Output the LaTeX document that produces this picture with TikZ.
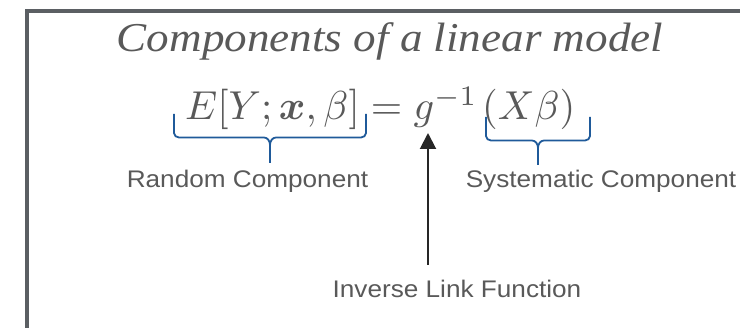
\documentclass[tikz,border=0pt]{standalone}
\usepackage{fontspec}
\usepackage{amsmath}
\usepackage{bm}
\usepackage{graphicx}
\setmainfont{Liberation Sans}
\newfontfamily\titlefont{Liberation Serif}
\usetikzlibrary{arrows.meta}
\definecolor{txtgray}{HTML}{595959}
\definecolor{framegray}{HTML}{5B5F63}
\definecolor{braceblue}{HTML}{1F5A9A}
\definecolor{arrowdark}{HTML}{262626}
\tikzset{
  frameline/.style={draw=framegray, line width=4.5pt},
  bracepath/.style={draw=braceblue, line width=1.8pt, line join=round},
  linkarrow/.style={draw=arrowdark, line width=2pt, -{Triangle[length=16pt,width=16pt]}},
  lbl/.style={anchor=base, inner sep=0pt, text=txtgray, font=\fontsize{24}{28}\selectfont},
  titletext/.style={anchor=base, inner sep=0pt, text=txtgray, font=\titlefont\itshape\fontsize{41}{48}\selectfont},
  eqtext/.style={anchor=base west, inner sep=0pt, text=txtgray}
}
\begin{document}
\begin{tikzpicture}[x=1pt, y=-1pt]
\useasboundingbox (0,0) rectangle (740,328);
\clip (0,0) rectangle (740,328);
% frame
\draw[frameline] (27,10.8) rectangle (800,400);
% title
\node[titletext] (title) at (390,52) {\scalebox{1.1}[1]{Components of a linear model}};
% equation
\node[eqtext] (eq) at (185,120) {\scalebox{4.04}{$E[Y;\bm{x},\beta]=g^{-1}\mkern2mu(X\beta)$}};
% braces
\coordinate (lbA) at (174,114);
\coordinate (lbB) at (366,114);
\coordinate (lbT) at (270,163);
\draw[bracepath] (lbA) -- (174,133) to[out=-90,in=180] (179,137.5) -- (264,137.5) to[out=0,in=90] (lbT |- 0,145) -- (lbT);
\draw[bracepath] (lbB) -- (366,133) to[out=-90,in=0] (361,137.5) -- (276,137.5) to[out=180,in=90] (lbT |- 0,145);
\coordinate (rbA) at (486,117);
\coordinate (rbB) at (590,117);
\coordinate (rbT) at (538,165);
\draw[bracepath] (rbA) -- (486,136) to[out=-90,in=180] (491,140.5) -- (532,140.5) to[out=0,in=90] (rbT |- 0,148) -- (rbT);
\draw[bracepath] (rbB) -- (590,136) to[out=-90,in=0] (585,140.5) -- (544,140.5) to[out=180,in=90] (rbT |- 0,148);
% labels
\node[lbl] (lrand) at (247.5,188) {\scalebox{1.09}[1]{Random Component}};
\node[lbl] (lsys) at (601,188) {\scalebox{1.09}[1]{Systematic Component}};
\node[lbl] (llink) at (457,298) {\scalebox{1.09}[1]{Inverse Link Function}};
% arrow
\coordinate (atail) at (428,265);
\coordinate (ahead) at (428,133);
\draw[linkarrow] (atail) -- (ahead);
\end{tikzpicture}
\end{document}
